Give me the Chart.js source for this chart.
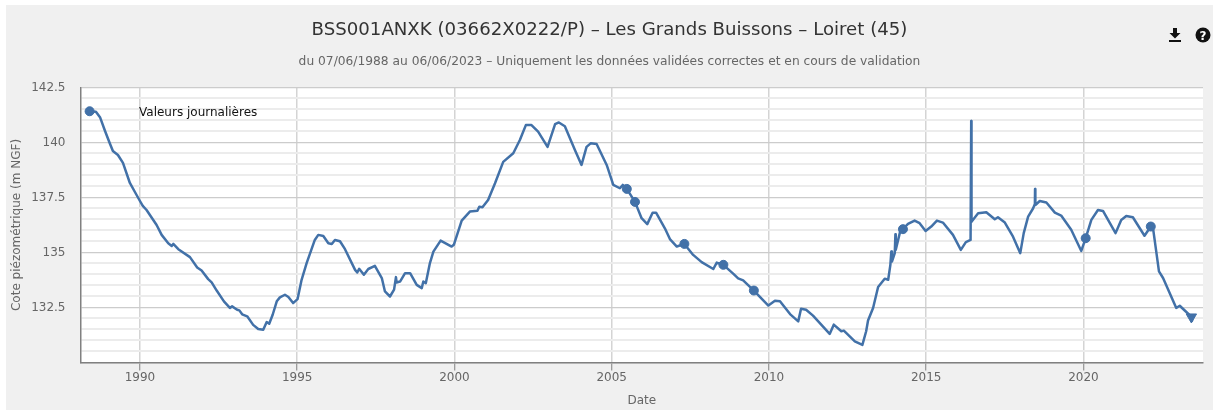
<!DOCTYPE html>
<html>
<head>
<meta charset="utf-8">
<title>BSS001ANXK</title>
<script src="https://cdn.jsdelivr.net/npm/chart.js@4"></script>
<style>
  html, body { margin: 0; padding: 0; background: #fff; overflow: hidden; }
  #box { position: absolute; left: 6px; top: 5px; width: 1207px; height: 405px; background: #f0f0f0; }
  canvas { display: block; }
  #serie { position: absolute; left: 133px; top: 100px; font: 12px "DejaVu Sans", sans-serif; color: #111; white-space: nowrap; }
  .ico { position: absolute; top: 22px; }
</style>
</head>
<body>
<div id="box">
  <canvas id="piezo" width="1207" height="405"></canvas>
  <div id="serie">Valeurs journalières</div>
  <svg class="ico" style="left:1162px" width="14" height="16" viewBox="0 0 14 16">
    <path d="M5 1h4v5h3.5L7 11.5 1.5 6H5z" fill="#111"/><rect x="1" y="13" width="12" height="2" fill="#111"/>
  </svg>
  <svg class="ico" style="left:1189px" width="16" height="16" viewBox="0 0 16 16">
    <circle cx="8" cy="8" r="7.5" fill="#111"/>
    <text x="8" y="12.5" text-anchor="middle" font-family="DejaVu Sans" font-weight="bold" font-size="12" fill="#fff">?</text>
  </svg>
</div>
<script>
// dates en années décimales, cotes en m NGF
var dates = [1988.35,1988.60,1988.73,1988.89,1989.05,1989.14,1989.30,1989.46,1989.68,1989.84,1990.00,1990.09,1990.21,1990.53,1990.69,1990.90,1991.01,1991.06,1991.22,1991.59,1991.82,1991.96,1992.17,1992.28,1992.44,1992.67,1992.86,1992.93,1993.09,1993.16,1993.25,1993.41,1993.60,1993.76,1993.92,1994.03,1994.11,1994.22,1994.35,1994.45,1994.61,1994.72,1994.87,1995.01,1995.14,1995.30,1995.56,1995.67,1995.83,1995.99,1996.10,1996.20,1996.36,1996.52,1996.84,1996.91,1996.97,1997.12,1997.26,1997.47,1997.69,1997.79,1997.95,1998.08,1998.14,1998.16,1998.27,1998.43,1998.59,1998.80,1998.96,1999.01,1999.09,1999.22,1999.33,1999.56,1999.91,1999.98,2000.23,2000.49,2000.73,2000.79,2000.89,2001.07,2001.29,2001.55,2001.87,2002.08,2002.27,2002.45,2002.66,2002.96,2003.20,2003.32,2003.51,2003.83,2004.04,2004.20,2004.33,2004.52,2004.84,2005.05,2005.26,2005.35,2005.48,2005.74,2005.95,2006.13,2006.30,2006.41,2006.69,2006.85,2007.07,2007.31,2007.59,2007.86,2008.23,2008.34,2008.55,2008.87,2009.02,2009.18,2009.52,2009.98,2010.19,2010.35,2010.67,2010.93,2011.02,2011.18,2011.40,2011.93,2012.06,2012.30,2012.38,2012.73,2012.97,2013.09,2013.15,2013.31,2013.47,2013.68,2013.79,2013.86,2013.89,2013.91,2014.00,2014.02,2014.03,2014.17,2014.26,2014.42,2014.63,2014.79,2014.98,2015.16,2015.34,2015.53,2015.85,2016.10,2016.26,2016.41,2016.43,2016.44,2016.65,2016.91,2017.18,2017.28,2017.50,2017.76,2017.99,2018.10,2018.24,2018.40,2018.455,2018.46,2018.47,2018.61,2018.82,2019.09,2019.29,2019.61,2019.93,2020.07,2020.25,2020.46,2020.62,2021.02,2021.20,2021.36,2021.57,2021.94,2022.14,2022.21,2022.40,2022.53,2022.95,2023.06,2023.43,2023.45];
var cotes = [141.42,141.40,141.15,140.52,139.93,139.61,139.43,139.07,138.16,137.75,137.34,137.12,136.93,136.25,135.80,135.42,135.30,135.39,135.15,134.79,134.32,134.18,133.79,133.64,133.27,132.78,132.48,132.55,132.40,132.37,132.19,132.10,131.71,131.52,131.49,131.84,131.76,132.17,132.78,132.96,133.08,132.98,132.70,132.88,133.76,134.52,135.57,135.80,135.75,135.42,135.39,135.57,135.51,135.15,134.21,134.09,134.26,133.99,134.25,134.39,133.84,133.23,133.00,133.31,133.88,133.64,133.68,134.06,134.06,133.53,133.38,133.68,133.61,134.52,135.04,135.54,135.27,135.35,136.45,136.86,136.90,137.08,137.06,137.39,138.15,139.12,139.51,140.11,140.79,140.79,140.49,139.80,140.83,140.91,140.74,139.66,138.98,139.80,139.96,139.93,138.98,138.07,137.92,138.07,137.89,137.30,136.56,136.29,136.81,136.81,136.10,135.61,135.27,135.39,134.89,134.56,134.25,134.54,134.44,134.03,133.82,133.73,133.27,132.59,132.81,132.78,132.20,131.87,132.44,132.40,132.13,131.30,131.72,131.42,131.45,130.96,130.80,131.42,131.91,132.48,133.43,133.81,133.76,134.44,135.04,134.59,134.97,135.83,135.12,135.95,136.06,136.30,136.45,136.33,135.98,136.18,136.45,136.36,135.80,135.12,135.47,135.57,140.98,136.40,136.78,136.83,136.51,136.60,136.36,135.72,134.97,135.88,136.63,137.01,137.21,137.89,137.16,137.34,137.27,136.81,136.68,136.03,135.07,135.65,136.48,136.93,136.89,135.88,136.48,136.66,136.60,135.76,136.18,136.12,134.14,133.84,132.48,132.58,132.08,131.90];

// points marqués sur la courbe
var markerDates = [1988.40,2005.48,2005.74,2007.31,2008.55,2009.52,2014.26,2020.07,2022.14,2023.43];
var markerCotes = [141.42,137.89,137.30,135.39,134.44,133.27,136.06,135.65,136.18,132.07];
var markerStyles = ['circle','circle','circle','circle','circle','circle','circle','circle','circle','triangle'];
var markerRotations = [0,0,0,0,0,0,0,0,0,180];
var markerRadius = [4.5,4.5,4.5,4.5,4.5,4.5,4.5,4.5,4.5,6];

var xTicks = [1990,1995,2000,2005,2010,2015,2020];
var xMin = 1988.11, xMax = 2023.8;
var yMin = 130, yMax = 142.5;

var font = '"DejaVu Sans", sans-serif';
var bleu = '#4271a8';

function points(xs, ys) {
  var out = [];
  for (var i = 0; i < xs.length; i++) out.push({ x: xs[i], y: ys[i] });
  return out;
}

var fondBlanc = {
  id: 'fondBlanc',
  beforeDraw: function (chart) {
    var a = chart.chartArea;
    chart.ctx.fillStyle = '#fff';
    chart.ctx.fillRect(a.left, a.top, a.width, a.height);
  }
};

new Chart(document.getElementById('piezo'), {
  type: 'scatter',
  plugins: [fondBlanc],
  data: {
    datasets: [{
      label: 'Valeurs journalières',
      data: points(dates, cotes),
      showLine: true,
      borderColor: bleu,
      borderWidth: 2.5,
      borderJoinStyle: 'round',
      borderCapStyle: 'round',
      pointRadius: 0,
      tension: 0,
      order: 2
    }, {
      label: 'Repères',
      data: points(markerDates, markerCotes),
      showLine: false,
      backgroundColor: bleu,
      borderColor: bleu,
      pointRadius: markerRadius,
      pointStyle: markerStyles,
      pointRotation: markerRotations,
      order: 1
    }]
  },
  options: {
    responsive: false,
    animation: false,
    layout: { padding: { left: 10, right: 10, top: 0, bottom: 0 } },
    plugins: {
      legend: { display: false },
      tooltip: { enabled: false },
      title: {
        display: true,
        text: 'BSS001ANXK (03662X0222/P) – Les Grands Buissons – Loiret (45)',
        color: '#333',
        font: { family: font, size: 18.15, weight: 'normal' },
        padding: { top: 14, bottom: 11 }
      },
      subtitle: {
        display: true,
        text: 'du 07/06/1988 au 06/06/2023 – Uniquement les données validées correctes et en cours de validation',
        color: '#666',
        font: { family: font, size: 12.25, weight: 'normal' },
        padding: { top: 3, bottom: 18 }
      }
    },
    scales: {
      x: {
        type: 'linear',
        min: xMin,
        max: xMax,
        afterBuildTicks: function (scale) {
          scale.ticks = xTicks.map(function (v) { return { value: v }; });
        },
        afterFit: function (scale) { scale.height = 47.5; },
        ticks: {
          color: '#666',
          font: { family: font, size: 12 },
          maxRotation: 0,
          autoSkip: false,
          padding: 0,
          callback: function (v) { return String(v); }
        },
        grid: { color: '#d4d4d4', lineWidth: 1.5, tickColor: '#808080', tickLength: 8, tickWidth: 1 },
        border: { color: '#808080', width: 1.5 },
        title: {
          display: true,
          text: 'Date',
          color: '#666',
          font: { family: font, size: 12 },
          padding: { top: 0, bottom: 2 }
        }
      },
      y: {
        min: yMin,
        max: yMax,
        afterFit: function (scale) { scale.width = 64.5; },
        ticks: {
          stepSize: 0.5,
          autoSkip: false,
          color: '#666',
          padding: 15,
          font: { family: font, size: 12 },
          callback: function (v) {
            if (v === yMin || v % 2.5 !== 0) return '';
            return String(v);
          }
        },
        grid: {
          drawTicks: false,
          color: function (c) { return c.tick.value % 2.5 === 0 ? '#cccccc' : '#ececec'; },
          lineWidth: function (c) { return c.tick.value % 2.5 === 0 ? 1.2 : 2; }
        },
        border: { color: '#808080', width: 1.5 },
        title: {
          display: true,
          text: 'Cote piézométrique (m NGF)',
          color: '#666',
          font: { family: font, size: 12 },
          padding: { top: -6, bottom: 0 }
        }
      }
    }
  }
});
</script>
</body>
</html>
